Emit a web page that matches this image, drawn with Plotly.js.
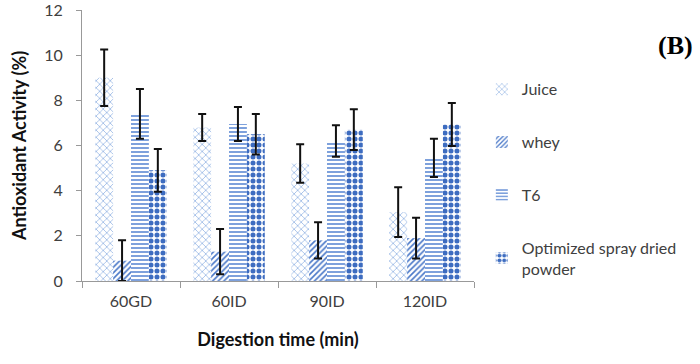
<!DOCTYPE html>
<html><head><meta charset="utf-8">
<script src="https://cdn.plot.ly/plotly-3.0.1.min.js"></script>
<style>body{margin:0;background:#fff}#c{width:700px;height:364px}</style>
</head><body><div id="c"></div>
<script>
const categories = ["60GD","60ID","90ID","120ID"];
const juice = [9.0, 6.8, 5.2, 3.05];
const juiceErr = [1.25, 0.6, 0.85, 1.1];
const whey = [0.9, 1.3, 1.8, 1.9];
const wheyErr = [0.9, 1.0, 0.8, 0.9];
const t6 = [7.4, 6.95, 6.2, 5.45];
const t6Err = [1.1, 0.75, 0.7, 0.85];
const osd = [4.9, 6.5, 6.7, 6.93];
const osdErr = [0.95, 0.9, 0.9, 0.95];
const yTicks = [0, 2, 4, 6, 8, 10, 12];
const names = ["Juice","whey","T6","Optimized spray dried<br>powder"];

function tr(name, y, err, shape, fg, size, sol, grp){
  return {type:"bar", name:name, x:categories, y:y, legendgroup:grp,
    marker:{color:"#ffffff", line:{width:0},
      pattern:{shape:shape, fgcolor:fg, bgcolor:"#ffffff", size:size, solidity:sol, fillmode:"replace"}},
    error_y:{type:"data", array:err, visible:true, color:"#111", thickness:2, width:4}};
}
const data = [
  tr(names[0], juice, juiceErr, "x", "#9dbbe6", 5, 0.3, "a"),
  tr(names[1], whey, wheyErr, "/", "#4a78c8", 4, 0.4, "b"),
  tr(names[2], t6, t6Err, "-", "#6f97d8", 4, 0.45, "c"),
  tr(names[3], osd, osdErr, ".", "#3d6cc0", 6, 0.55, "d")
];
const layout = {
  width:700, height:364, paper_bgcolor:"#fff", plot_bgcolor:"#fff",
  margin:{l:82, r:226, t:10, b:83},
  barmode:"group", bargap:0.27, bargroupgap:0,
  font:{family:"Lato, sans-serif", color:"#404040"},
  xaxis:{type:"category", showline:true, linecolor:"#999", linewidth:1,
    ticks:"outside", tickson:"boundaries", ticklen:6, tickcolor:"#999",
    ticklabelstandoff:6, tickfont:{size:16, color:"#404040"},
    title:{text:"<b>Digestion time (min)</b>", font:{size:18, color:"#111"}, standoff:24}},
  yaxis:{range:[0,12.0001], tickmode:"array", tickvals:yTicks, ticktext:yTicks.map(String),
    showgrid:false, zeroline:false, showline:true, linecolor:"#999", ticklabeloverflow:"allow",
    ticks:"outside", ticklen:5, tickcolor:"#999", ticklabelstandoff:10, tickfont:{size:16, color:"#404040"},
    title:{text:"<b>Antioxidant Activity (%)</b>", font:{size:18, color:"#111"}, standoff:12}},
  legend:{x:1.02, y:0.77, xanchor:"left", yanchor:"top", tracegroupgap:29,
    font:{size:16, color:"#404040"}, itemwidth:30, bgcolor:"rgba(0,0,0,0)"},
  annotations:[{text:"<b>(B)</b>", xref:"paper", yref:"paper", x:1.565, y:0.87, xanchor:"right", yanchor:"middle",
    showarrow:false, font:{family:"Liberation Serif, serif", size:26, color:"#000"}}]
};
Plotly.newPlot("c", data, layout, {displayModeBar:false});
</script></body></html>
